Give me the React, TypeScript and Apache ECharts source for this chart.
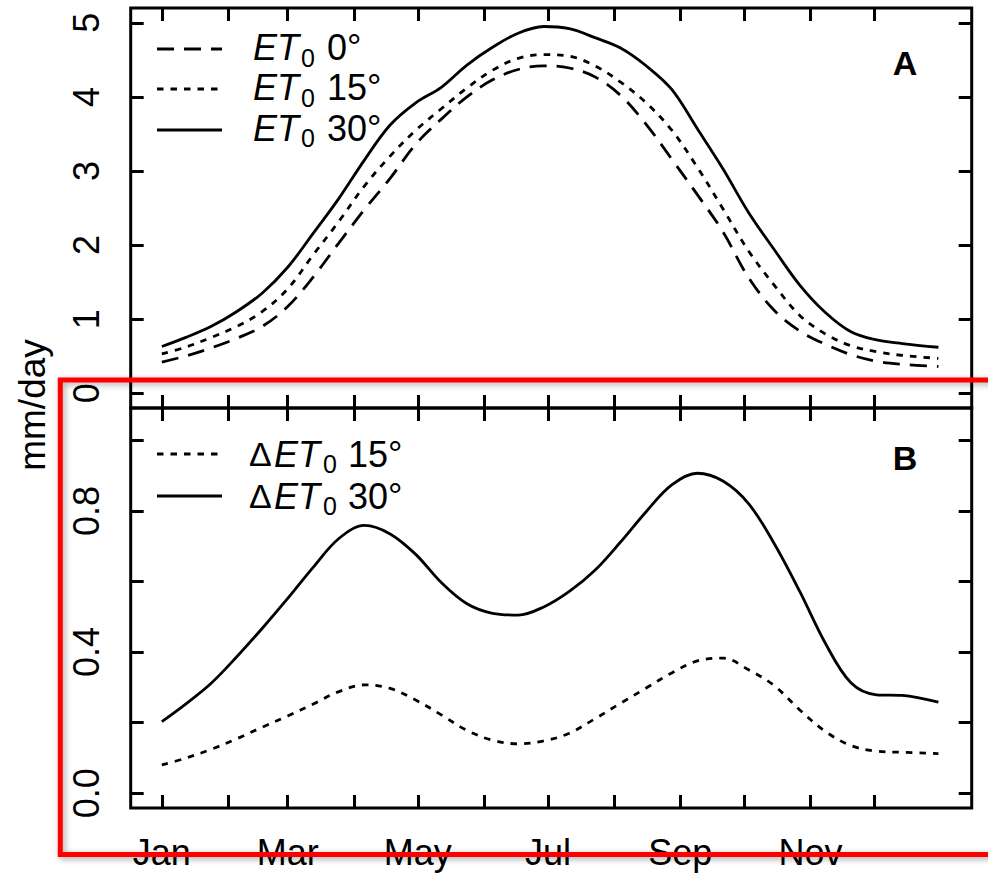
import React, { useEffect, useRef } from "react";
import * as echarts from "echarts";

// Day of year at which each curve is sampled
const days = [1, 12, 24, 36, 48, 60, 72, 84, 96, 108, 120, 132, 144, 156, 168, 180, 192, 204, 216, 228, 240, 252, 264, 276, 288, 300, 312, 324, 336, 348, 365];

// Panel A: reference evapotranspiration (mm/day) for three slopes
const et0Slope0 = [0.42, 0.5, 0.61, 0.74, 0.9, 1.17, 1.57, 2.03, 2.48, 2.9, 3.36, 3.7, 4.0, 4.23, 4.37, 4.42, 4.39, 4.27, 4.02, 3.63, 3.16, 2.68, 2.18, 1.56, 1.12, 0.84, 0.66, 0.52, 0.43, 0.39, 0.36];
const et0Slope15 = [0.53, 0.62, 0.75, 0.9, 1.1, 1.41, 1.87, 2.32, 2.8, 3.2, 3.55, 3.84, 4.12, 4.36, 4.52, 4.57, 4.55, 4.42, 4.2, 3.92, 3.55, 3.05, 2.49, 1.92, 1.46, 1.05, 0.8, 0.64, 0.56, 0.51, 0.47];
const et0Slope30 = [0.63, 0.75, 0.9, 1.1, 1.35, 1.7, 2.16, 2.63, 3.15, 3.62, 3.92, 4.13, 4.43, 4.67, 4.86, 4.95, 4.92, 4.8, 4.66, 4.42, 4.1, 3.57, 3.03, 2.44, 1.94, 1.46, 1.09, 0.83, 0.72, 0.67, 0.62];

// Panel B: difference relative to the flat surface (mm/day)
const dEt0Slope15 = [0.08, 0.099, 0.124, 0.154, 0.187, 0.219, 0.253, 0.288, 0.307, 0.297, 0.264, 0.222, 0.178, 0.15, 0.14, 0.148, 0.17, 0.211, 0.255, 0.298, 0.341, 0.375, 0.383, 0.35, 0.305, 0.236, 0.175, 0.135, 0.119, 0.116, 0.112];
const dEt0Slope30 = [0.203, 0.252, 0.311, 0.386, 0.467, 0.552, 0.641, 0.722, 0.759, 0.735, 0.677, 0.597, 0.537, 0.51, 0.505, 0.528, 0.572, 0.632, 0.712, 0.798, 0.874, 0.907, 0.885, 0.821, 0.708, 0.572, 0.425, 0.313, 0.279, 0.277, 0.258];

// Axis ticks and labels
const monthStartDays = [1, 32, 60, 91, 121, 152, 182, 213, 244, 274, 305, 335];
const monthNames = ["Jan", "Feb", "Mar", "Apr", "May", "Jun", "Jul", "Aug", "Sep", "Oct", "Nov", "Dec"];
const labelledMonthDays = [1, 60, 121, 182, 244, 305];
const panelATicks = [0, 1, 2, 3, 4, 5];
const panelBTicks = [0, 0.2, 0.4, 0.6, 0.8, 1.0];
const panelBLabels = [0, 0.4, 0.8];

const FONT = '"Liberation Sans", Arial, Helvetica, sans-serif';
const X_MIN = -13.6;
const X_MAX = 380.6;

const pairs = (ys: number[]) => days.map((d, i) => [d, ys[i]]);

const tickStyle = { color: "#000", width: 3 };

function xAxis(gridIndex: number, position: string, withLabels: boolean) {
  return {
    type: "value",
    gridIndex,
    position,
    min: X_MIN,
    max: X_MAX,
    axisLine: { show: false, onZero: false },
    splitLine: { show: false },
    axisTick: { show: true, inside: true, length: 13, lineStyle: tickStyle, customValues: monthStartDays },
    axisLabel: withLabels
      ? {
          show: true,
          customValues: labelledMonthDays,
          formatter: (v: number) => monthNames[monthStartDays.indexOf(Math.round(v))],
          fontSize: 36,
          fontFamily: FONT,
          color: "#000",
          margin: 26,
        }
      : { show: false },
  };
}

function yAxis(gridIndex: number, position: string, min: number, max: number, ticks: number[], labels: number[] | null, digits: number) {
  return {
    type: "value",
    gridIndex,
    position,
    min,
    max,
    axisLine: { show: false, onZero: false },
    splitLine: { show: false },
    axisTick: { show: true, inside: true, length: 13, lineStyle: tickStyle, customValues: ticks },
    axisLabel: labels
      ? {
          show: true,
          customValues: labels,
          rotate: 90,
          formatter: (v: number) => v.toFixed(digits),
          fontSize: 36,
          fontFamily: FONT,
          color: "#000",
          margin: 26,
        }
      : { show: false },
  };
}

function line(name: string, ys: number[], xi: number, yi: number, type: any) {
  return {
    name,
    type: "line",
    xAxisIndex: xi,
    yAxisIndex: yi,
    data: pairs(ys),
    smooth: 0.35,
    symbol: "none",
    showSymbol: false,
    silent: true,
    lineStyle: { color: "#000", width: 2.8, type },
    emphasis: { disabled: true },
  };
}

const DASH = [17, 10];
const DOT = [6.5, 7];

function txt(x: number, y: number, text: string, size: number, extra: any = {}) {
  return {
    type: "text",
    x,
    y,
    silent: true,
    style: {
      text,
      fontSize: size,
      fontFamily: FONT,
      fill: "#000",
      align: "left",
      verticalAlign: "middle",
      textAlign: "left",
      textVerticalAlign: "middle",
      ...extra,
    },
  };
}

function legendLine(y: number, dash: number[] | null) {
  return {
    type: "line",
    silent: true,
    shape: { x1: 157, y1: y, x2: 222, y2: y },
    style: { stroke: "#000", lineWidth: 2.8, lineDash: dash || undefined },
  };
}

function legendEntryA(y: number, suffix: string) {
  return [
    txt(253, y, "ET", 36, { fontStyle: "italic" }),
    txt(301, y + 10, "0", 25),
    txt(327, y, suffix, 36),
  ];
}

function legendEntryB(y: number, suffix: string) {
  return [
    txt(249, y, "\u0394", 34),
    txt(274, y, "ET", 36, { fontStyle: "italic" }),
    txt(323, y + 10, "0", 25),
    txt(348, y, suffix, 36),
  ];
}

export default function App() {
  const ref = useRef<HTMLDivElement>(null);

  useEffect(() => {
    if (!ref.current) return;
    const chart = echarts.init(ref.current, undefined, { renderer: "svg" });
    const gridStyle = { show: true, borderColor: "#000", borderWidth: 3, backgroundColor: "transparent" };
    chart.setOption({
      animation: false,
      backgroundColor: "#fff",
      grid: [
        { left: 130.7, top: 8, width: 841, height: 400, ...gridStyle },
        { left: 130.7, top: 408, width: 841, height: 400, ...gridStyle },
      ],
      xAxis: [
        xAxis(0, "bottom", false),
        xAxis(0, "top", false),
        xAxis(1, "top", false),
        xAxis(1, "bottom", true),
      ],
      yAxis: [
        yAxis(0, "left", -0.2, 5.2, panelATicks, panelATicks, 0),
        yAxis(0, "right", -0.2, 5.2, panelATicks, null, 0),
        yAxis(1, "left", -0.042, 1.092, panelBTicks, panelBLabels, 1),
        yAxis(1, "right", -0.042, 1.092, panelBTicks, null, 1),
      ],
      series: [
        line("ET0 0°", et0Slope0, 0, 0, DASH),
        line("ET0 15°", et0Slope15, 0, 0, DOT),
        line("ET0 30°", et0Slope30, 0, 0, "solid"),
        line("ΔET0 15°", dEt0Slope15, 3, 2, DOT),
        line("ΔET0 30°", dEt0Slope30, 3, 2, "solid"),
      ],
      graphic: [
        // panel A legend
        legendLine(49, DASH),
        legendLine(89, DOT),
        legendLine(130, null),
        ...legendEntryA(47.5, "0°"),
        ...legendEntryA(87.5, "15°"),
        ...legendEntryA(128, "30°"),
        // panel B legend
        legendLine(454, DOT),
        legendLine(496, null),
        ...legendEntryB(454, "15°"),
        ...legendEntryB(496, "30°"),
        // panel tags
        txt(905, 63, "A", 34, { fontWeight: "bold", align: "center", textAlign: "center" }),
        txt(905, 458, "B", 34, { fontWeight: "bold", align: "center", textAlign: "center" }),
        // shared y-axis title
        {
          type: "text",
          x: 32,
          y: 405,
          rotation: Math.PI / 2,
          silent: true,
          style: {
            text: "mm/day",
            fontSize: 37,
            fontFamily: FONT,
            fill: "#000",
            align: "center",
            verticalAlign: "middle",
            textAlign: "center",
            textVerticalAlign: "middle",
          },
        },
        // highlight frame around panel B
        {
          type: "rect",
          z: 100,
          silent: true,
          shape: { x: 60.3, y: 380, width: 960, height: 474.5 },
          style: {
            fill: "none",
            stroke: "#ff0000",
            lineWidth: 5,
            shadowBlur: 6,
            shadowColor: "rgba(0,0,0,0.35)",
            shadowOffsetX: 2,
            shadowOffsetY: 2,
          },
        },
      ],
    });
    return () => chart.dispose();
  }, []);

  return (
    <div
      ref={ref}
      style={{ position: "absolute", left: 0, top: 0, width: 988, height: 879, background: "#fff" }}
    />
  );
}
